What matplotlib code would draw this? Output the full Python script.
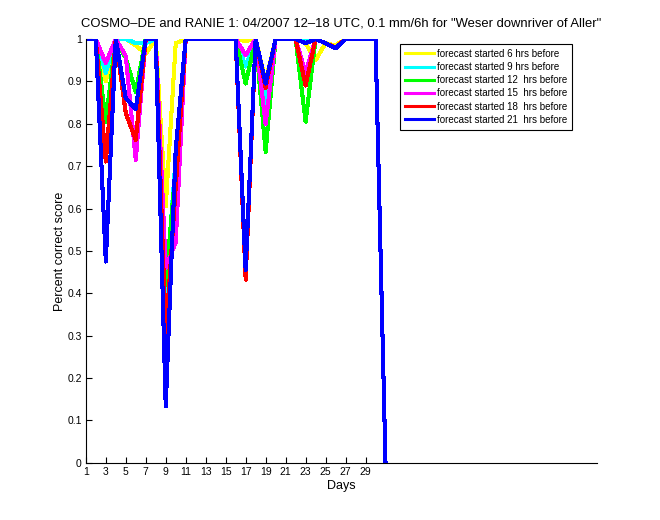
import matplotlib
matplotlib.use("Agg")
import matplotlib.pyplot as plt
import numpy as np

plt.rc("font", family=["Liberation Sans", "DejaVu Sans"], size=7.5)

days = np.arange(1, 32)

# percent correct score per forecast lead time, days 1..31
lead_6 = [1, 1, 0.90, 1, 1, 0.985, 0.965, 1, 0.605, 0.99, 1, 1, 1, 1, 1, 1,
          0.995, 1, 0.90, 1, 1, 1, 0.99, 0.95, 0.99, 0.985, 1, 1, 1, 1, 0]
lead_9 = [1, 1, 0.92, 1, 1, 0.99, 0.99, 1, 0.40, 0.72, 1, 1, 1, 1, 1, 1,
          0.935, 1, 0.85, 1, 1, 1, 0.995, 1, 0.99, 0.98, 1, 1, 1, 1, 0]
lead_12 = [1, 1, 0.805, 1, 0.955, 0.875, 1, 1, 0.42, 0.70, 1, 1, 1, 1, 1, 1,
           0.895, 1, 0.734, 1, 1, 1, 0.805, 1, 0.99, 0.98, 1, 1, 1, 1, 0]
lead_15 = [1, 1, 0.943, 1, 0.96, 0.715, 1, 1, 0.46, 0.52, 1, 1, 1, 1, 1, 1,
           0.962, 1, 0.80, 1, 1, 1, 0.92, 1, 0.99, 0.98, 1, 1, 1, 1, 0]
lead_18 = [1, 1, 0.711, 1, 0.825, 0.762, 1, 1, 0.30, 0.65, 1, 1, 1, 1, 1, 1,
           0.432, 1, 0.885, 1, 1, 1, 0.89, 1, 0.99, 0.98, 1, 1, 1, 1, 0]
lead_21 = [1, 1, 0.475, 1, 0.86, 0.835, 1, 1, 0.133, 0.74, 1, 1, 1, 1, 1, 1,
           0.455, 1, 0.895, 1, 1, 1, 0.99, 1, 0.99, 0.978, 1, 1, 1, 1, 0]

series = [lead_6, lead_9, lead_12, lead_15, lead_18, lead_21]
labels = ["forecast started 6 hrs before", "forecast started 9 hrs before",
          "forecast started 12  hrs before", "forecast started 15  hrs before",
          "forecast started 18  hrs before", "forecast started 21  hrs before"]
colors = ["#ffff00", "#00ffff", "#00ff00", "#ff00ff", "#ff0000", "#0000ff"]

fig = plt.figure(figsize=(6.6, 5.2), dpi=100)
ax = fig.add_axes([0.13, 0.11, 0.775, 0.815])

for vals, lab, c in zip(series, labels, colors):
    ax.plot(days, vals, color=c, linewidth=2.2, label=lab, antialiased=False)

ax.set_xlim(1, 52.2)
ax.set_ylim(0, 1)
ax.set_xticks(np.arange(1, 30, 2))
ax.set_yticks(np.arange(0, 1.01, 0.1))
ax.set_yticklabels(["0"] + ["%.1f" % v for v in np.arange(0.1, 0.95, 0.1)] + ["1"])
ax.tick_params(direction="in", length=4, width=0.8, pad=3, top=False, right=False)
ax.spines["top"].set_visible(False)
ax.spines["right"].set_visible(False)

ax.set_xlabel("Days", fontsize=9, labelpad=2)
ax.set_ylabel("Percent correct score", fontsize=9, labelpad=1)
ax.set_title('COSMO\u2013DE and RANIE 1: 04/2007 12\u201318 UTC, 0.1 mm/6h for "Weser downriver of Aller"',
             fontsize=9.4, pad=9)

leg = ax.legend(loc="upper right", bbox_to_anchor=(0.96, 1.0), fontsize=7.0,
                handlelength=3.0, handletextpad=0.3, labelspacing=0.33,
                borderpad=0.5, fancybox=False, framealpha=1)
leg.get_frame().set_edgecolor("black")
leg.get_frame().set_linewidth(0.8)

fig.savefig("out.png", dpi=100)
